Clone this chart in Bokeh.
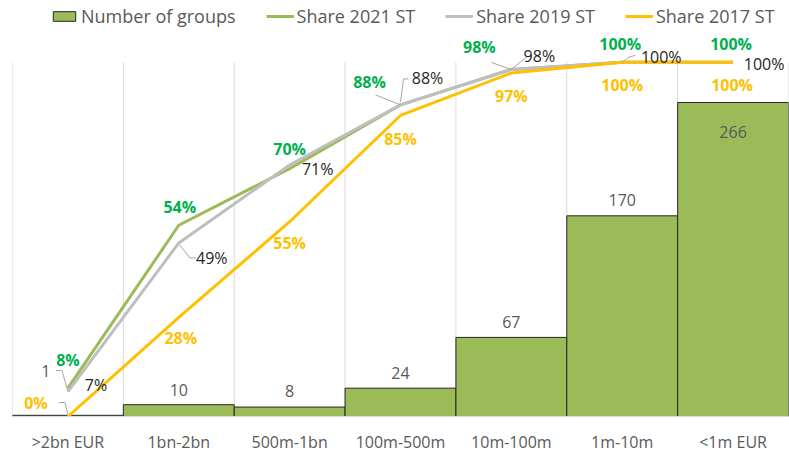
from bokeh.plotting import figure
from bokeh.models import Range1d, FixedTicker, Legend, LegendItem
from bokeh.core.properties import value
from bokeh.embed import file_html
from bokeh.resources import INLINE

# ---- data ----
categories = [">2bn EUR", "1bn-2bn", "500m-1bn", "100m-500m", "10m-100m", "1m-10m", "<1m EUR"]
groups = [1, 10, 8, 24, 67, 170, 266]
share_2021 = [0.08, 0.54, 0.70, 0.88, 0.98, 1.00, 1.00]
share_2019 = [0.07, 0.49, 0.71, 0.88, 0.98, 1.00, 1.00]
share_2017 = [0.00, 0.28, 0.55, 0.85, 0.97, 1.00, 1.00]

# ---- layout / style ----
FONT = "Open Sans"
W, H = 789, 455
BL, BR, BT, BB = 12, 1, 0, 38
FW, FH = W - BL - BR, H - BT - BB
TOP_PAD = 62                       # px between frame top and the 100% / 300 level
n = len(categories)
BAR_MAX = 300
PCT_MAX = FH / (FH - TOP_PAD)
PCT_PX = FH - TOP_PAD              # px per 100%
xs = [i + 0.5 for i in range(n)]
kx = FW / n

GREEN_BAR = "#9BBB59"
GREEN_LINE = "#9BBB59"
GRAY_LINE = "#BFBFBF"
YELLOW = "#FFC000"
LABEL_GREEN = "#00B050"
TXT = "#595959"
DARK = "#262626"
LEADER = "#A6A6A6"
GRID = "#D9D9D9"

# label offsets in screen pixels (dx, dy; dy positive = down)
green_off = [(0, -28), (1, -18), (0, -20), (-31, -23), (-32, -22), (-2, -18), (-2, -18)]
gray_off = [(28, -7), (33, 15), (28, 4), (27, -27), (28, -13), (39, -5), (31, 2)]
yellow_off = [(-32, -14), (2, 21), (0, 21), (0, 24), (0, 23), (0, 23), (-1, 23)]
bar_off = [(-22, -44), (0, -15), (0, -16), (0, -15), (0, -15), (0, -16), (0, 30)]

# leader lines: point index -> vertex offsets (px) relative to the point
green_lead = {3: [(-25, -10), (0, 0)], 4: [(-20, -7), (0, 0)]}
gray_lead = {1: [(17, 15), (11, 15), (1, 2)], 3: [(8, -26), (3, -26), (0, -3)],
             4: [(21, -13), (16, -13), (0, 0)], 5: [(13, -7), (6, -5), (0, 0)]}
yellow_lead = {0: [(-9, -14), (-3, -14), (0, -2)]}
bar_lead = {0: [(-12, -45), (-6, -45), (0, -24)]}

p = figure(width=W, height=H, output_backend="svg", toolbar_location=None,
           x_range=Range1d(0, n), y_range=Range1d(0, BAR_MAX * PCT_MAX),
           y_axis_location=None, min_border_left=BL, min_border_right=BR,
           min_border_top=BT, min_border_bottom=BB)
p.extra_y_ranges = {"pct": Range1d(0, PCT_MAX)}
p.outline_line_color = None
p.background_fill_color = "white"
p.border_fill_color = "white"
p.xgrid.visible = False
p.ygrid.visible = False

ax = p.xaxis[0]
ax.ticker = FixedTicker(ticks=xs)
ax.major_label_overrides = {x: c for x, c in zip(xs, categories)}
ax.axis_line_color = GRID
ax.axis_line_width = 1
ax.major_tick_line_color = None
ax.minor_tick_line_color = None
ax.major_tick_in = 0
ax.major_tick_out = 0
ax.major_label_standoff = 14
ax.major_label_text_font = FONT
ax.major_label_text_font_size = "16px"
ax.major_label_text_color = TXT

# vertical grid lines at category boundaries, up to the 100% level
bounds = list(range(n + 1))
p.segment(x0=bounds, y0=[0] * len(bounds), x1=bounds, y1=[1] * len(bounds),
          y_range_name="pct", line_color=GRID, line_width=1)

bars = p.vbar(x=xs, top=groups, width=1, fill_color=GREEN_BAR, line_color=DARK, line_width=1)
l21 = p.line(xs, share_2021, y_range_name="pct", line_color=GREEN_LINE, line_width=3)
l19 = p.line(xs, share_2019, y_range_name="pct", line_color=GRAY_LINE, line_width=3)
l17 = p.line(xs, share_2017, y_range_name="pct", line_color=YELLOW, line_width=3)


def leaders(base_y, lead):
    lx, ly = [], []
    for i, verts in lead.items():
        lx.append([xs[i] + dx / kx for dx, dy in verts])
        ly.append([base_y[i] - dy / PCT_PX for dx, dy in verts])
    return lx, ly


bar_pct = [g / BAR_MAX for g in groups]
for base, lead in [(share_2021, green_lead), (share_2019, gray_lead),
                   (share_2017, yellow_lead), (bar_pct, bar_lead)]:
    lx, ly = leaders(base, lead)
    p.multi_line(lx, ly, y_range_name="pct", line_color=LEADER, line_width=1)


def labels(yvals, texts, offs, color, bold, rng=None):
    kw = dict(y_range_name=rng) if rng else {}
    p.text(x=xs, y=yvals, text=texts,
           x_offset=[o[0] for o in offs], y_offset=[o[1] for o in offs],
           text_align="center", text_baseline="middle",
           text_font=value(FONT), text_font_size="16px",
           text_font_style="bold" if bold else "normal", text_color=color, **kw)


pct = lambda v: f"{round(v * 100)}%"
labels(groups, [str(g) for g in groups], bar_off, TXT, False)
labels(share_2021, [pct(v) for v in share_2021], green_off, LABEL_GREEN, True, "pct")
labels(share_2019, [pct(v) for v in share_2019], gray_off, DARK, False, "pct")
labels(share_2017, [pct(v) for v in share_2017], yellow_off, YELLOW, True, "pct")

legend = Legend(items=[LegendItem(label="Number of groups", renderers=[bars]),
                       LegendItem(label="Share 2021 ST", renderers=[l21]),
                       LegendItem(label="Share 2019 ST", renderers=[l19]),
                       LegendItem(label="Share 2017 ST", renderers=[l17])],
                orientation="horizontal", location=(38, FH - 29),
                label_text_font=FONT, label_text_font_size="18px", label_text_color=TXT,
                label_height=20,
                glyph_width=28, glyph_height=12, label_standoff=3, spacing=30,
                border_line_color=None, background_fill_alpha=0, padding=0, margin=0)
p.add_layout(legend, "center")

open("out.html", "w").write(file_html(p, INLINE))
